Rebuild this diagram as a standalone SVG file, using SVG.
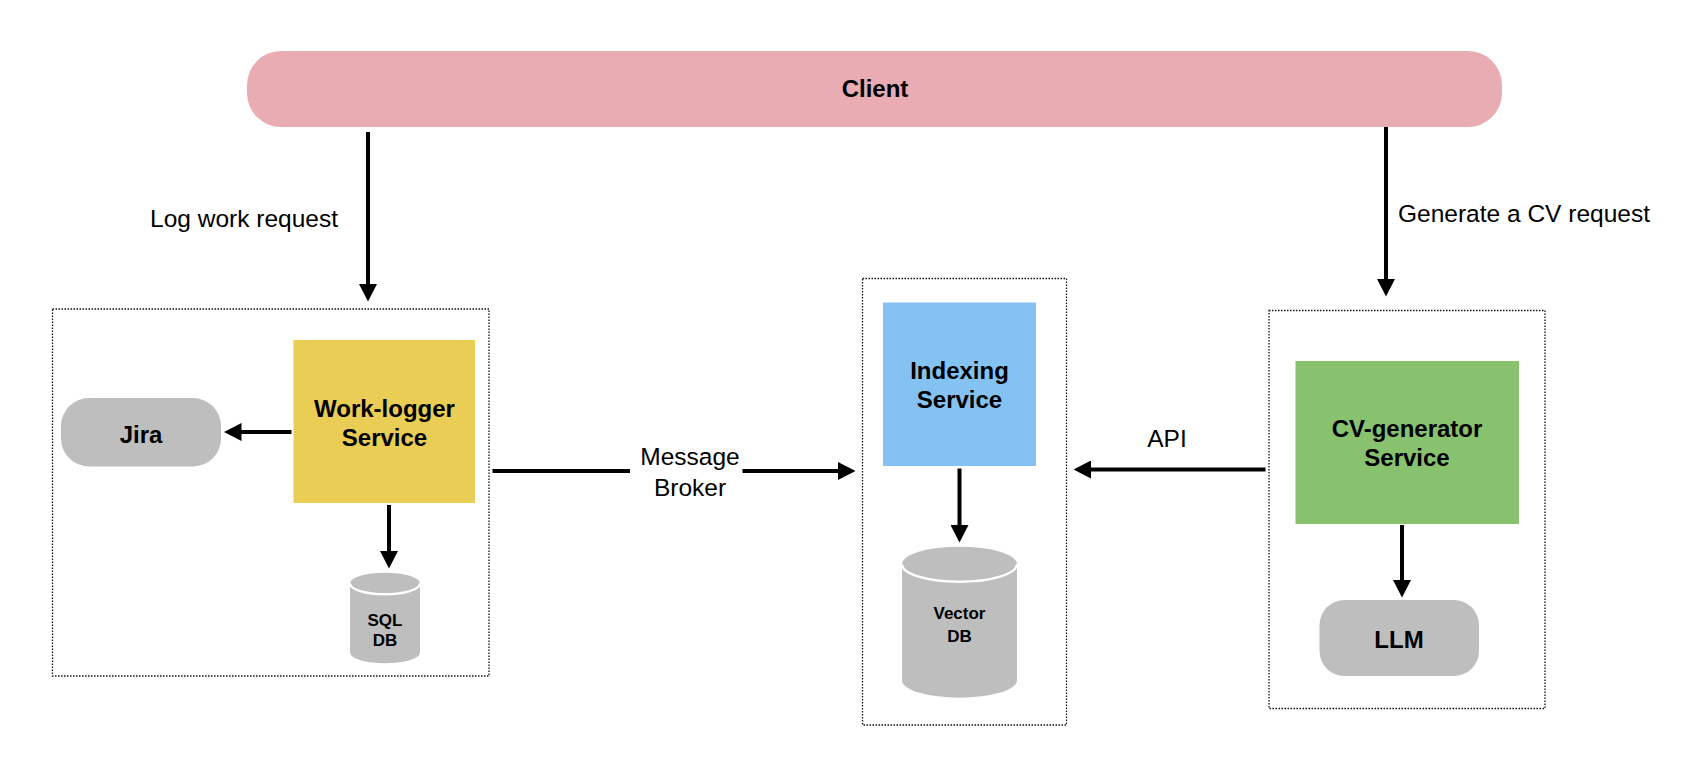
<svg xmlns="http://www.w3.org/2000/svg" width="1708" height="778" viewBox="0 0 1708 778">
  <style>
    .label { font-family: "Liberation Sans", Arial, Helvetica, sans-serif; font-size: 24.5px; fill: #000; }
    .title { font-family: "Liberation Sans", Arial, Helvetica, sans-serif; font-size: 24px; font-weight: bold; fill: #000; text-anchor: middle; }
    .small { font-family: "Liberation Sans", Arial, Helvetica, sans-serif; font-size: 17px; font-weight: bold; fill: #000; text-anchor: middle; }
    .frame { fill: none; stroke: #111; stroke-width: 1.3; stroke-dasharray: 1.5 1.5; }
    .gray { fill: #BEBEBE; }
    .rim { fill: none; stroke: #fff; stroke-width: 2.5; }
    .edge { fill: none; stroke: #000; stroke-width: 4; marker-end: url(#head); }
    .plain { fill: none; stroke: #000; stroke-width: 4; }
  </style>
  <defs>
    <marker id="head" markerUnits="userSpaceOnUse" markerWidth="18" markerHeight="18" refX="1" refY="9" orient="auto">
      <path d="M0,0 L17.5,9 L0,18 Z" fill="#000"/>
    </marker>
  </defs>

  <rect width="1708" height="778" fill="#fff"/>

  <!-- Client bar -->
  <g id="client">
    <rect x="247" y="51" width="1255" height="76" rx="34" fill="#E8ACB2"/>
    <text class="title" x="875" y="97">Client</text>
  </g>

  <!-- Work-logger container -->
  <g id="worklogger-group">
    <rect class="frame" x="52.5" y="309" width="436.5" height="367"/>
  </g>
  <g id="worklogger">
    <rect x="293.5" y="340" width="181.5" height="163" fill="#EACD54"/>
    <text class="title" x="384.5" y="416.5">Work-logger</text>
    <text class="title" x="384.5" y="445.5">Service</text>
  </g>
  <g id="jira">
    <rect x="61" y="398" width="160" height="68.5" rx="28" class="gray"/>
    <text class="title" x="141" y="442.5">Jira</text>
  </g>
  <g id="sqldb">
    <path class="gray" d="M350,583.5 A35,10.8 0 0 1 420,583.5 L420,652.5 A35,10.8 0 0 1 350,652.5 Z"/>
    <path class="rim" d="M350,583.5 A35,10.8 0 0 0 420,583.5"/>
    <text class="small" x="385" y="626">SQL</text>
    <text class="small" x="385" y="645.5">DB</text>
  </g>

  <!-- Indexing container -->
  <g id="indexing-group">
    <rect class="frame" x="862.5" y="278.5" width="204" height="446.5"/>
  </g>
  <g id="indexing">
    <rect x="883" y="302.5" width="153" height="163.5" fill="#84C2F2"/>
    <text class="title" x="959.5" y="378.5">Indexing</text>
    <text class="title" x="959.5" y="408">Service</text>
  </g>
  <g id="vectordb">
    <path class="gray" d="M902,564.2 A57.5,17.5 0 0 1 1017,564.2 L1017,680.2 A57.5,17.5 0 0 1 902,680.2 Z"/>
    <path class="rim" d="M902,564.2 A57.5,17.5 0 0 0 1017,564.2"/>
    <text class="small" x="959.5" y="618.5">Vector</text>
    <text class="small" x="959.5" y="641.5">DB</text>
  </g>

  <!-- CV-generator container -->
  <g id="cvgen-group">
    <rect class="frame" x="1269" y="310.5" width="276" height="398"/>
  </g>
  <g id="cvgen">
    <rect x="1295.5" y="361" width="223.5" height="163" fill="#88C26F"/>
    <text class="title" x="1407" y="436.5">CV-generator</text>
    <text class="title" x="1407" y="466">Service</text>
  </g>
  <g id="llm">
    <rect x="1319.5" y="600" width="159.5" height="76" rx="25" class="gray"/>
    <text class="title" x="1399" y="647.5">LLM</text>
  </g>

  <!-- Connectors -->
  <g id="connectors">
    <line class="edge" x1="368" y1="132" x2="368" y2="285"/>
    <line class="edge" x1="1386" y1="127" x2="1386" y2="280"/>
    <line class="edge" x1="291.5" y1="432" x2="240.5" y2="432"/>
    <line class="edge" x1="389" y1="505" x2="389" y2="552"/>
    <line class="plain" x1="492.5" y1="471" x2="630" y2="471"/>
    <line class="edge" x1="742.5" y1="471" x2="839" y2="471"/>
    <line class="edge" x1="959.5" y1="468.5" x2="959.5" y2="526"/>
    <line class="edge" x1="1265.5" y1="469.5" x2="1090" y2="469.5"/>
    <line class="edge" x1="1402" y1="525" x2="1402" y2="581"/>
  </g>

  <!-- Connector labels -->
  <g id="connector-labels">
    <text class="label" x="150" y="226.5">Log work request</text>
    <text class="label" x="1398" y="221.5">Generate a CV request</text>
    <text class="label" x="690" y="465" text-anchor="middle">Message</text>
    <text class="label" x="690" y="495.5" text-anchor="middle">Broker</text>
    <text class="label" x="1167" y="447" text-anchor="middle">API</text>
  </g>
</svg>
